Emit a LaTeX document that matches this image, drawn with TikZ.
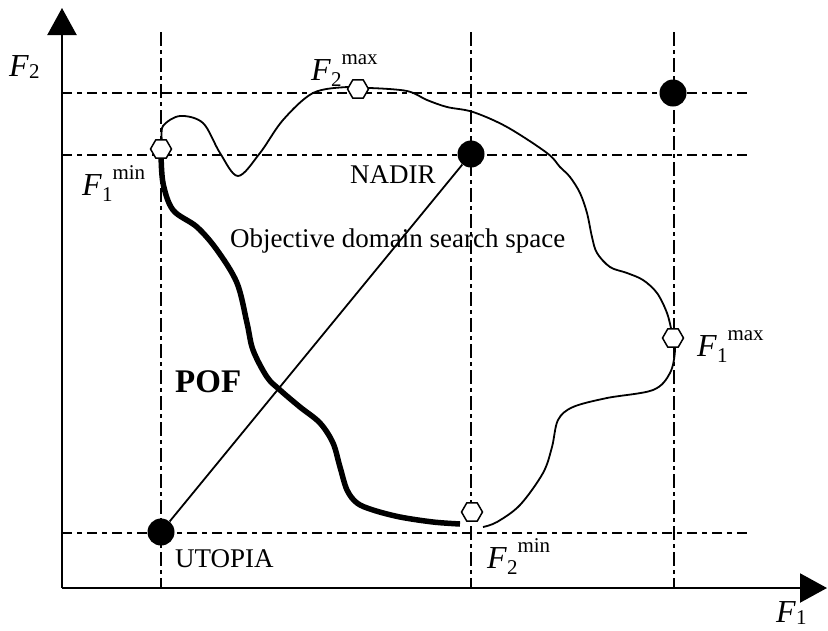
\documentclass[tikz,border=0pt]{standalone}
\usepackage{fontspec}
\setmainfont{Liberation Serif}
\usetikzlibrary{arrows.meta,shapes.geometric}
\newcommand\subsz{\fontsize{21}{21}\selectfont}
\newcommand\Flab[2]{\textit{F}\raisebox{-6pt}{\subsz #1}\raisebox{16pt}{\subsz #2}}
\newcommand\Fax[1]{\textit{F}\raisebox{-2pt}{\subsz #1}}
\begin{document}
\begin{tikzpicture}[x=1pt,y=-1pt,
  txt/.style={inner sep=0pt, anchor=base west, font=\fontsize{27}{30}\selectfont},
  ftxt/.style={inner sep=0pt, anchor=base west, font=\fontsize{32}{34}\selectfont},
  axisline/.style={line width=2.2pt, -{Triangle[length=27pt,width=29pt]}},
  vguide/.style={line width=1.7pt, dash pattern=on 14pt off 4pt on 4pt off 4pt},
  hguide/.style={line width=1.7pt, dash pattern=on 10pt off 5pt on 5pt off 5pt},
  bigdot/.style={circle, fill=black, inner sep=0pt, minimum size=27pt},
  hexmark/.style={regular polygon, regular polygon sides=6, draw, fill=white, line width=1.5pt, inner sep=0pt, minimum size=21pt},
  boundary/.style={line width=1.8pt},
  pof/.style={line width=5.5pt},
  diag/.style={line width=1.8pt}]
\useasboundingbox (0,0) rectangle (828,630);
% guides
\coordinate (v1t) at (161,32); \coordinate (v1b) at (161,588);
\coordinate (v2t) at (471,32); \coordinate (v2b) at (471,588);
\coordinate (v3t) at (674,32); \coordinate (v3b) at (674,588);
\coordinate (h1l) at (62,93);  \coordinate (h1r) at (748,93);
\coordinate (h2l) at (62,155); \coordinate (h2r) at (748,155);
\coordinate (h3l) at (62,533); \coordinate (h3r) at (748,533);
\draw[vguide] (v1t) -- (v1b);
\draw[vguide] (v2t) -- (v2b);
\draw[vguide] (v3t) -- (v3b);
\draw[hguide] (h1l) -- (h1r);
\draw[hguide] (h2l) -- (h2r);
\draw[hguide] (h3l) -- (h3r);
% axes
\coordinate (O) at (62,588);
\coordinate (ytip) at (62,8);
\coordinate (xtip) at (827,588);
\draw[axisline] (O) -- (ytip);
\draw[axisline] (O) -- (xtip);
% boundary of objective domain
\draw[boundary] plot[smooth, tension=0.55] coordinates {
  (162,141) (163,126) (180,116) (203,123) (220,153) (238,176) (260,153) (283,120)
  (313,93) (347,87) (358,89) (370,88) (407,91) (427,100) (447,107) (473,112)
  (507,127) (547,153) (560,167) (570,177) (580,193) (587,213) (592,237) (597,253)
  (610,267) (627,273) (643,280) (657,293) (667,313) (672,333) (675,350) (670,373)
  (653,390) (607,398) (573,407) (558,420) (552,447) (543,473) (520,505) (497,522) (483,527)};
% Pareto optimal front
\draw[pof] plot[smooth, tension=0.55] coordinates {
  (161,152) (163,183) (173,210) (197,227) (217,250) (237,283) (247,323) (253,350)
  (267,377) (280,390) (300,407) (320,423) (333,443) (340,467) (347,490) (357,503)
  (373,510) (400,517) (433,522) (460,524)};
% points
\node[bigdot] (utopia) at (161,532) {};
\node[bigdot] (nadir) at (471,154) {};
\node[bigdot] (worst) at (673,93) {};
\draw[diag] (utopia) -- (nadir);
\node[hexmark] (f1min) at (161,149) {};
\node[hexmark] (f2max) at (358,89) {};
\node[hexmark] (f1max) at (673,338) {};
\node[hexmark] (f2min) at (472,512) {};
% labels
\node[ftxt] (lf2) at (9,76) {\Fax{2}};
\node[ftxt] (lf1) at (776,622) {\Fax{1}};
\node[ftxt] (lf1min) at (82,195) {\Flab{1}{min}};
\node[ftxt] (lf2max) at (311,80) {\Flab{2}{max}};
\node[ftxt] (lf1max) at (697,356) {\Flab{1}{max}};
\node[ftxt] (lf2min) at (487,568) {\Flab{2}{min}};
\node[txt] (lnadir) at (350,183) {NADIR};
\node[txt] (lutopia) at (175,567) {UTOPIA};
\node[txt] (lspace) at (230,247) {Objective domain search space};
\node[txt, font=\fontsize{33}{36}\selectfont\bfseries] (lpof) at (175,392) {POF};
\end{tikzpicture}
\end{document}
